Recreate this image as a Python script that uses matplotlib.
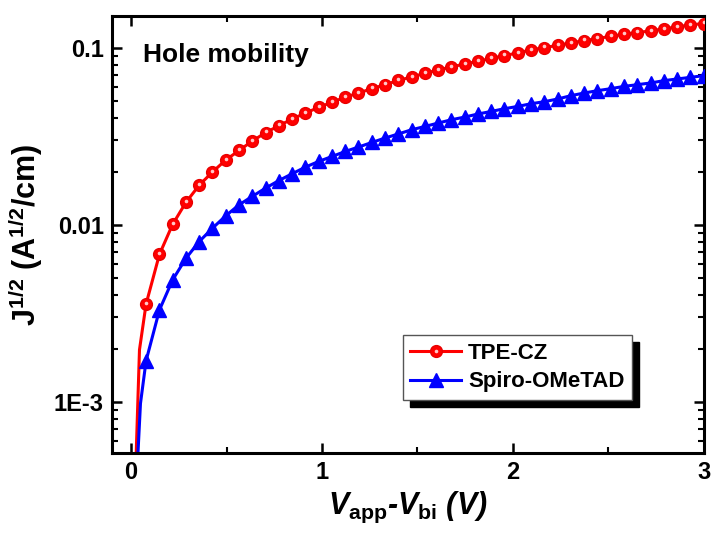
import numpy as np
import matplotlib
matplotlib.use('Agg')
import matplotlib.pyplot as plt
import matplotlib.transforms as mtransforms
from matplotlib.lines import Line2D
from matplotlib.legend_handler import HandlerTuple
from matplotlib.ticker import FixedLocator, LogLocator, NullFormatter, MultipleLocator

plt.rcParams['font.family'] = ['Liberation Sans', 'DejaVu Sans']
plt.rcParams['font.weight'] = 'bold'
plt.rcParams['mathtext.fontset'] = 'custom'
plt.rcParams['mathtext.rm'] = 'Liberation Sans:bold'
plt.rcParams['mathtext.it'] = 'Liberation Sans:bold:italic'
plt.rcParams['mathtext.bf'] = 'Liberation Sans:bold'

# voltage at each marker (V_app - V_bi)
v = [0.078, 0.148, 0.217, 0.287, 0.356, 0.426, 0.495, 0.565, 0.635, 0.704,
     0.774, 0.843, 0.913, 0.982, 1.052, 1.122, 1.191, 1.261, 1.330, 1.400,
     1.469, 1.539, 1.609, 1.678, 1.748, 1.817, 1.887, 1.956, 2.026, 2.096,
     2.165, 2.235, 2.304, 2.374, 2.443, 2.513, 2.583, 2.652, 2.722, 2.791,
     2.861, 2.930, 3.000]

tpe_cz = [0.00357, 0.00681, 0.01006, 0.01341, 0.01674, 0.01990, 0.02323, 0.02633,
          0.02980, 0.03318, 0.03634, 0.03964, 0.04286, 0.04610, 0.04934, 0.05266,
          0.05562, 0.05884, 0.06198, 0.06547, 0.06852, 0.07182, 0.07507, 0.07806,
          0.08117, 0.08397, 0.08731, 0.09046, 0.09370, 0.09743, 0.1004, 0.1034,
          0.1067, 0.1100, 0.1129, 0.1163, 0.1194, 0.1221, 0.1248, 0.1281,
          0.1315, 0.1349, 0.1373]

spiro = [0.001706, 0.003304, 0.004883, 0.006478, 0.008041, 0.009579, 0.01124, 0.01298,
         0.01450, 0.01613, 0.01781, 0.01944, 0.02121, 0.02282, 0.02435, 0.02600,
         0.02753, 0.02922, 0.03095, 0.03265, 0.03447, 0.03599, 0.03763, 0.03927,
         0.04068, 0.04231, 0.04377, 0.04534, 0.04672, 0.04839, 0.04967, 0.05145,
         0.05372, 0.05562, 0.05732, 0.05884, 0.06063, 0.06198, 0.06337, 0.06530,
         0.06676, 0.06816, 0.06970]

# extra low-voltage points of the curves (no markers there)
v_low_red = [0.022, 0.026, 0.0435]
tpe_cz_low = [1.0e-4, 5.0e-4, 0.00197]
v_low_blue = [0.033, 0.035, 0.0487]
spiro_low = [1.0e-4, 5.0e-4, 0.00098]

fig = plt.figure(figsize=(7.14, 5.45), dpi=100)
ax = fig.add_axes([0.157, 0.169, 0.8286, 0.8018])

ax.plot(v_low_red + v, tpe_cz_low + tpe_cz, color='#ff0000', lw=2.2, zorder=2)
ax.plot(v_low_blue + v, spiro_low + spiro, color='#0000ff', lw=2.2, zorder=2)

ax.plot(v, tpe_cz, ls='none', marker='o', ms=8.5, color='#ff0000',
        mec='#e80000', zorder=3)
hl = mtransforms.offset_copy(ax.transData, fig=fig, x=0, y=0.9, units='points')
ax.plot(v, tpe_cz, ls='none', marker='o', ms=2.6, color='#ffc8c8',
        mec='none', transform=hl, zorder=4)
ax.plot(v, spiro, ls='none', marker='^', ms=9.5, color='#0000ff', zorder=3)

ax.set_yscale('log')
ax.set_xlim(-0.1, 3.0)
ax.set_ylim(5.15e-4, 0.1516)

ax.xaxis.set_major_locator(FixedLocator([0, 1, 2, 3]))
ax.xaxis.set_minor_locator(MultipleLocator(0.5))
ax.yaxis.set_major_locator(FixedLocator([1e-3, 1e-2, 1e-1]))
ax.set_yticklabels(['1E-3', '0.01', '0.1'])
ax.yaxis.set_minor_locator(LogLocator(base=10, subs=np.arange(2, 10)))
ax.yaxis.set_minor_formatter(NullFormatter())

for s in ax.spines.values():
    s.set_linewidth(2.2)
ax.tick_params(which='major', direction='in', length=7, width=1.8,
               labelsize=17, pad=6)
ax.tick_params(which='minor', direction='in', length=4, width=1.5)
ax.tick_params(which='both', top=True, right=True)
for lab in ax.get_xticklabels() + ax.get_yticklabels():
    lab.set_fontweight('bold')

ax.set_xlabel('$V_{\\mathrm{app}}$-$V_{\\mathrm{bi}}$ (V)', fontsize=22,
              fontweight='bold', style='italic', labelpad=4)
ax.set_ylabel('J$^{1/2}$ (A$^{1/2}$/cm)', fontsize=22, fontweight='bold',
              labelpad=6)

ax.text(0.052, 0.91, 'Hole mobility', transform=ax.transAxes, fontsize=19,
        fontweight='bold', va='center', ha='left')

h_red = Line2D([], [], color='#ff0000', lw=2.2, marker='o', ms=8.5, mec='#e80000')
h_red_hl = Line2D([], [], ls='none', marker='o', ms=2.6, color='#ffc8c8', mec='none')
h_blue = Line2D([], [], color='#0000ff', lw=2.2, marker='^', ms=9.5)
leg = ax.legend([(h_red, h_red_hl), h_blue], ['TPE-CZ', 'Spiro-OMeTAD'],
                handler_map={tuple: HandlerTuple(ndivide=1)},
                loc='upper left', bbox_to_anchor=(0.491, 0.27), borderaxespad=0,
                fontsize=16, numpoints=1, handlelength=2.3, handletextpad=0.3,
                labelspacing=0.35, borderpad=0.35, fancybox=False,
                shadow={'ox': 5, 'oy': -5, 'color': 'black', 'alpha': 1},
                framealpha=1)
leg.get_frame().set_edgecolor('#555555')
leg.get_frame().set_linewidth(1.0)
for t in leg.get_texts():
    t.set_fontweight('bold')

fig.savefig('out.png', dpi=100)
